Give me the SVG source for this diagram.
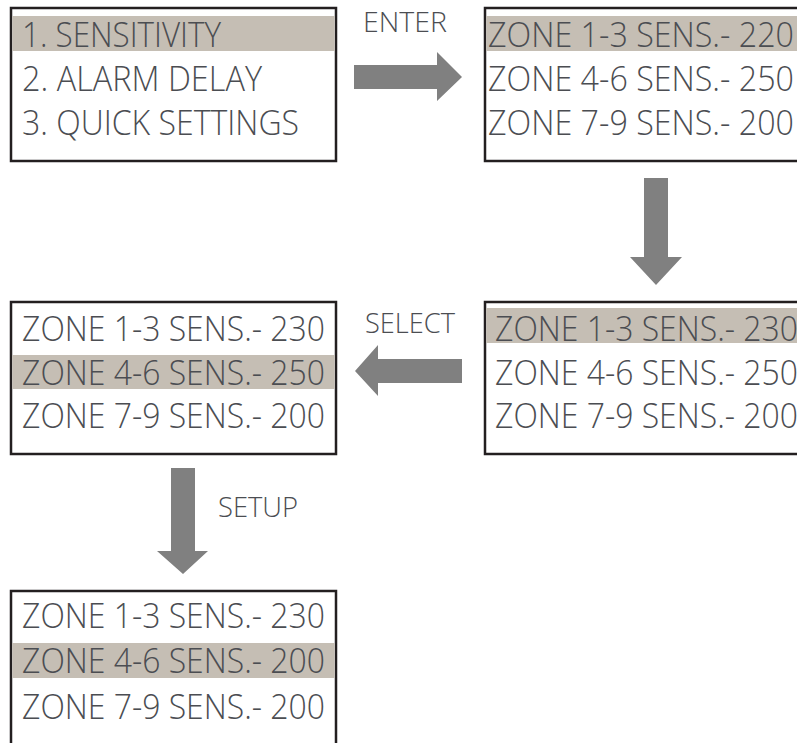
<svg xmlns="http://www.w3.org/2000/svg" width="797" height="743" viewBox="0 0 797 743">
<style>
.box{fill:#fff;stroke:#231f20;stroke-width:2.5}
.hl{fill:#c5beb4}
.t{font-family:"Open Sans","Liberation Sans",sans-serif;font-weight:300;font-size:35px;fill:#4b4d52}
.lbl{font-family:"Open Sans","Liberation Sans",sans-serif;font-weight:300;font-size:28px;fill:#4b4d52}
.arr{fill:#808080}
</style>
<rect width="797" height="743" fill="#fff"/>
<g id="menu">
<rect class="box" x="11" y="8" width="325" height="153"/>
<rect class="hl" x="12.3" y="16" width="322.4" height="35"/>
<text class="t" x="22" y="47" textLength="199" lengthAdjust="spacingAndGlyphs">1. SENSITIVITY</text>
<text class="t" x="22" y="91" textLength="240" lengthAdjust="spacingAndGlyphs">2. ALARM DELAY</text>
<text class="t" x="22" y="135" textLength="277" lengthAdjust="spacingAndGlyphs">3. QUICK SETTINGS</text>
</g>
<g id="zones-a">
<rect class="box" x="485" y="8" width="330" height="153"/>
<rect class="hl" x="486.3" y="16" width="312" height="35"/>
<text class="t" x="488" y="47" textLength="306" lengthAdjust="spacingAndGlyphs">ZONE 1-3 SENS.- 220</text>
<text class="t" x="488" y="91" textLength="306" lengthAdjust="spacingAndGlyphs">ZONE 4-6 SENS.- 250</text>
<text class="t" x="488" y="135" textLength="306" lengthAdjust="spacingAndGlyphs">ZONE 7-9 SENS.- 200</text>
</g>
<g id="zones-b">
<rect class="box" x="485" y="302" width="330" height="152"/>
<rect class="hl" x="486.3" y="308" width="312" height="35"/>
<text class="t" x="495" y="341" textLength="303" lengthAdjust="spacingAndGlyphs">ZONE 1-3 SENS.- 230</text>
<text class="t" x="495" y="385" textLength="303" lengthAdjust="spacingAndGlyphs">ZONE 4-6 SENS.- 250</text>
<text class="t" x="495" y="428" textLength="303" lengthAdjust="spacingAndGlyphs">ZONE 7-9 SENS.- 200</text>
</g>
<g id="zones-c">
<rect class="box" x="11" y="302" width="325" height="152"/>
<rect class="hl" x="12.3" y="355" width="322.4" height="34"/>
<text class="t" x="22" y="341" textLength="303" lengthAdjust="spacingAndGlyphs">ZONE 1-3 SENS.- 230</text>
<text class="t" x="22" y="385" textLength="303" lengthAdjust="spacingAndGlyphs">ZONE 4-6 SENS.- 250</text>
<text class="t" x="22" y="428" textLength="303" lengthAdjust="spacingAndGlyphs">ZONE 7-9 SENS.- 200</text>
</g>
<g id="zones-d">
<rect class="box" x="11" y="591" width="325" height="170"/>
<rect class="hl" x="12.3" y="643" width="322.4" height="35"/>
<text class="t" x="22" y="628" textLength="303" lengthAdjust="spacingAndGlyphs">ZONE 1-3 SENS.- 230</text>
<text class="t" x="22" y="673" textLength="303" lengthAdjust="spacingAndGlyphs">ZONE 4-6 SENS.- 200</text>
<text class="t" x="22" y="719" textLength="303" lengthAdjust="spacingAndGlyphs">ZONE 7-9 SENS.- 200</text>
</g>
<g id="connectors">
<polygon class="arr" points="354,65 437,65 437,52 462,77 437,101 437,89 354,89"/>
<text class="lbl" x="363" y="32" textLength="84" lengthAdjust="spacingAndGlyphs">ENTER</text>
<polygon class="arr" points="644,178 668,178 668,257 682,257 656,285 630,257 644,257"/>
<polygon class="arr" points="462,359 378,359 378,345 355,371 378,396 378,383 462,383"/>
<text class="lbl" x="365" y="333" textLength="90" lengthAdjust="spacingAndGlyphs">SELECT</text>
<polygon class="arr" points="171,468 195,468 195,551 208,551 183,574 157,551 171,551"/>
<text class="lbl" x="218" y="517" textLength="80" lengthAdjust="spacingAndGlyphs">SETUP</text>
</g>
</svg>
